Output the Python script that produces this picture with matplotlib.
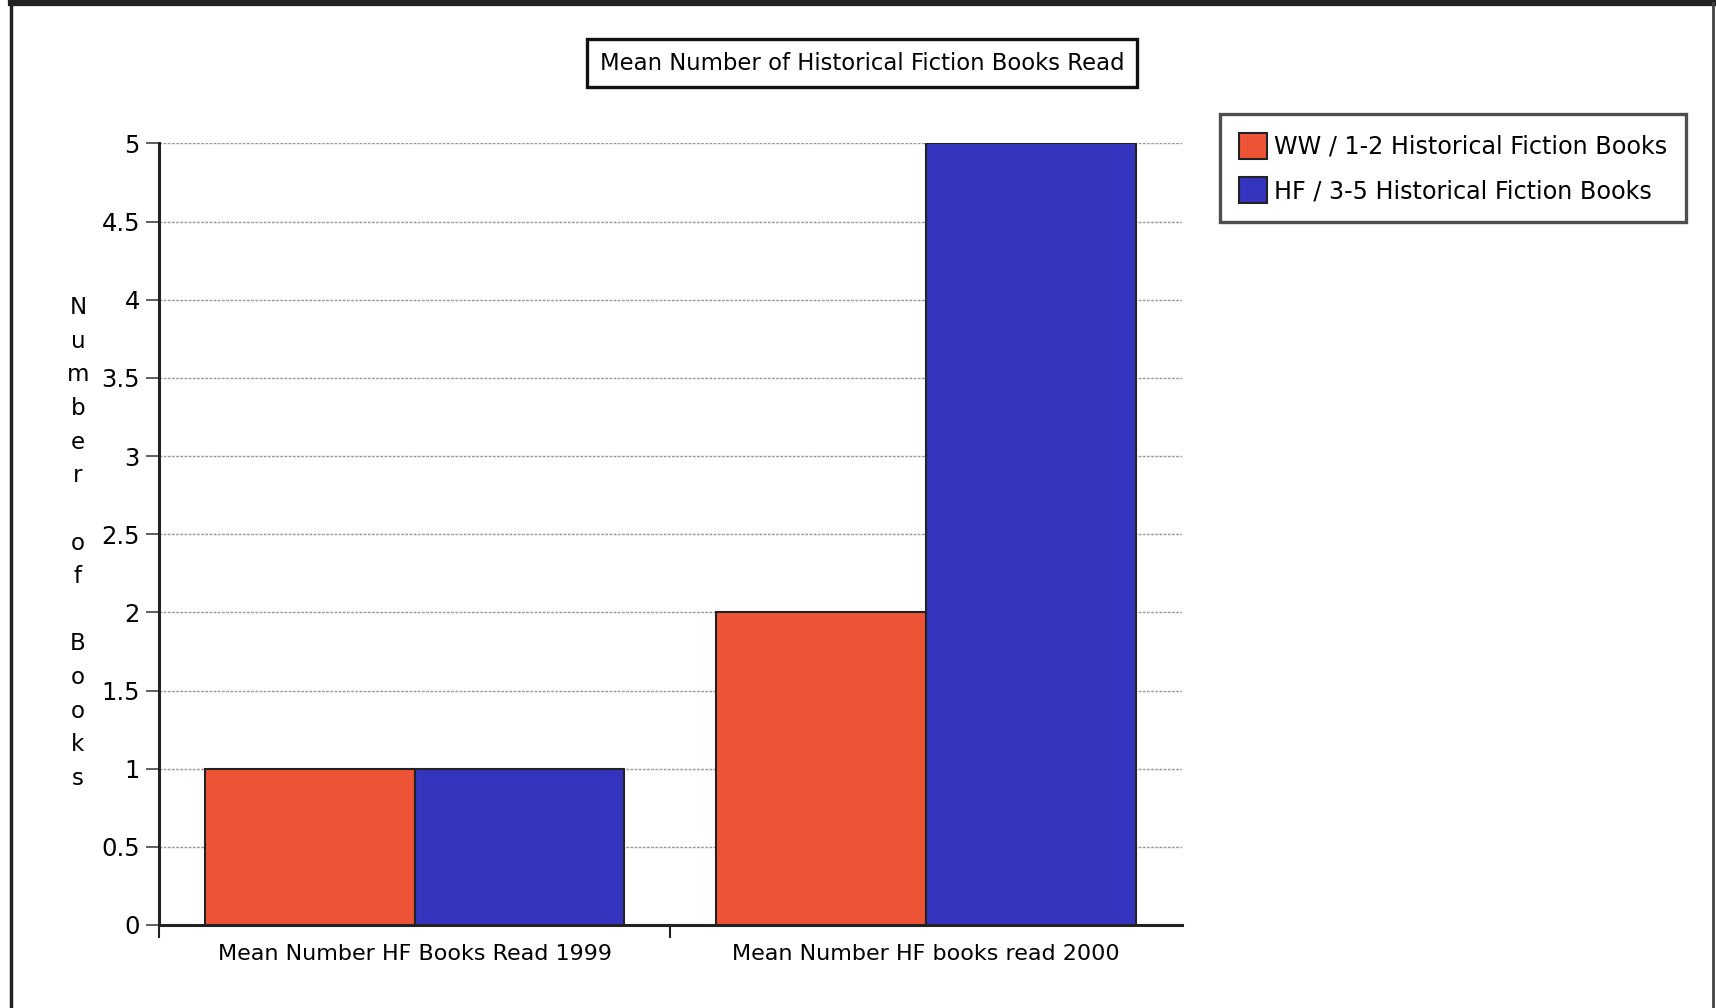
import matplotlib
matplotlib.use("Agg")
import matplotlib.pyplot as plt
from matplotlib.lines import Line2D
import numpy as np

categories = ["Mean Number HF Books Read 1999", "Mean Number HF books read 2000"]
ww_values = [1, 2]
hf_values = [1, 5]
series_names = ["WW / 1-2 Historical Fiction Books", "HF / 3-5 Historical Fiction Books"]
y_ticks = [0, 0.5, 1, 1.5, 2, 2.5, 3, 3.5, 4, 4.5, 5]
y_tick_labels = ["0", "0.5", "1", "1.5", "2", "2.5", "3", "3.5", "4", "4.5", "5"]
title = "Mean Number of Historical Fiction Books Read"
ylabel = "Number of Books"

RED = "#EE5536"
BLUE = "#3434BE"

plt.rcParams['font.family'] = ['DejaVu Sans']
fig = plt.figure(figsize=(17.16, 10.08), dpi=100)
ax = fig.add_axes([158.7/1716, 1-925/1008, (1182-158.7)/1716, (925-143.4)/1008])

x = np.arange(len(categories))
w = 0.41
ax.bar(x - w/2, ww_values, w, color=RED, edgecolor="#222222", linewidth=1.5, label=series_names[0], zorder=3)
ax.bar(x + w/2, hf_values, w, color=BLUE, edgecolor="#222222", linewidth=1.5, label=series_names[1], zorder=3)

ax.set_xlim(-0.5, 1.5)
ax.set_ylim(0, 5)
ax.set_yticks(y_ticks)
ax.set_yticklabels(y_tick_labels, fontsize=17.5)
ax.set_xticks(x)
ax.set_xticklabels(categories, fontsize=16)
ax.tick_params(axis='x', length=0, pad=14)
ax.set_xticks([-0.5, 0.5], minor=True)
ax.tick_params(axis='x', which='minor', length=9.5, width=1.5, direction='out', color='#222222')
ax.tick_params(axis='y', length=9.5, width=1.2, color='#444444', pad=4)
ax.yaxis.grid(True, color='#999999', linewidth=1.0, linestyle=(0, (2, 1)), zorder=0)
for s in ['top', 'right']:
    ax.spines[s].set_visible(False)
ax.spines['left'].set_linewidth(2.2)
ax.spines['left'].set_color('#222222')
ax.spines['bottom'].set_linewidth(2.2)
ax.spines['bottom'].set_color('#222222')

fig.text(78/1716, 1-543/1008, "\n".join(list(ylabel)), ha='center', va='center',
         fontsize=16.5, linespacing=1.59)

fig.text(862/1716, 1-63/1008, title, ha='center', va='center', fontsize=16.4,
         bbox=dict(boxstyle='square,pad=0.55', facecolor='white', edgecolor='#111111', linewidth=2.4))

leg = fig.legend(loc='upper left', bbox_to_anchor=(1220/1716, 1-114/1008), fontsize=17.2,
                 frameon=True, fancybox=False, edgecolor='#222222', handlelength=1.2,
                 handleheight=1.3, handletextpad=0.3, borderpad=0.78, labelspacing=0.78,
                 borderaxespad=0)
leg.get_frame().set_linewidth(2.4)

# outer frame (top, left, right)
fig.add_artist(Line2D([11/1716, 1713/1716], [1-3/1008, 1-3/1008], transform=fig.transFigure,
                      color='#222222', linewidth=4.5))
fig.add_artist(Line2D([11/1716, 11/1716], [0, 1-3/1008], transform=fig.transFigure,
                      color='#222222', linewidth=2.5))
fig.add_artist(Line2D([1713/1716, 1713/1716], [0, 1-3/1008], transform=fig.transFigure,
                      color='#444444', linewidth=2))

fig.savefig("out.png", dpi=100)
